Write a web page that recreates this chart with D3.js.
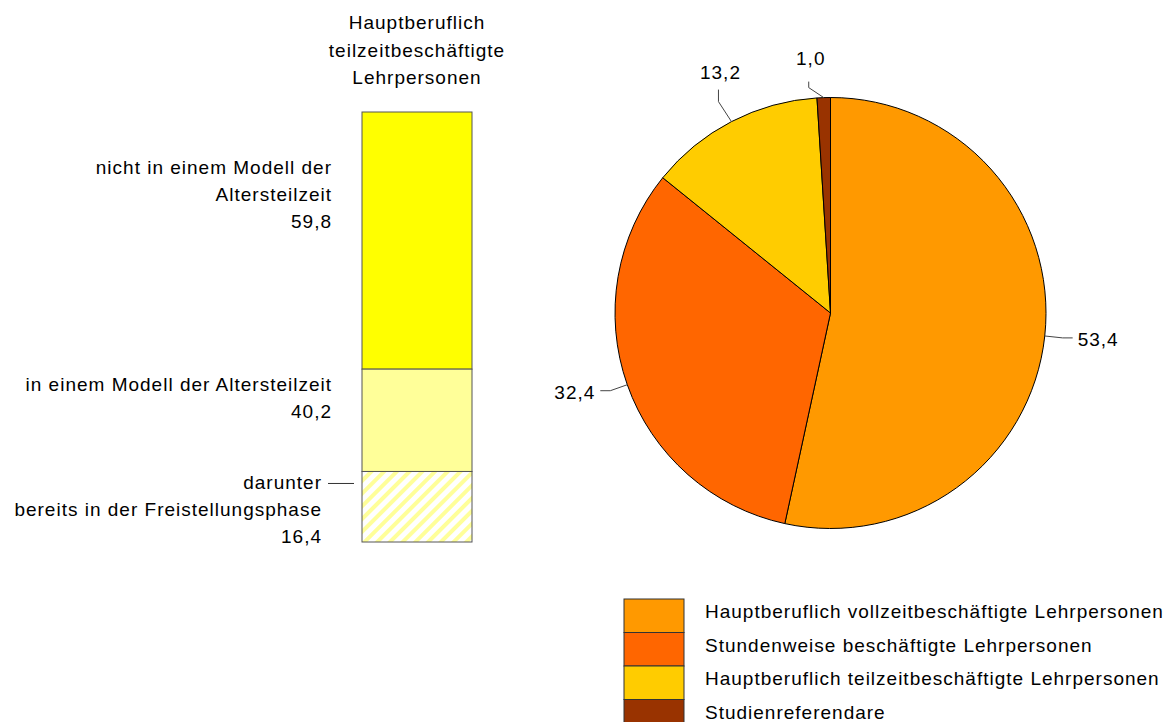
<!DOCTYPE html>
<html>
<head>
<meta charset="utf-8">
<script src="https://cdn.jsdelivr.net/npm/d3@7"></script>
<style>
  body { margin: 0; background: #fff; }
  svg text { font-family: "Liberation Sans", Arial, sans-serif; font-size: 19px; letter-spacing: 1px; fill: #000; }
</style>
</head>
<body>
<svg width="1176" height="722"></svg>
<script>
// Pie: Lehrpersonen nach Beschäftigungsumfang (%)
var pieCategories = ["Hauptberuflich vollzeitbeschäftigte Lehrpersonen",
                     "Stundenweise beschäftigte Lehrpersonen",
                     "Hauptberuflich teilzeitbeschäftigte Lehrpersonen",
                     "Studienreferendare"];
var pieValues = [53.4, 32.4, 13.2, 1.0];
var pieColors = ["#FF9900", "#FF6600", "#FFCC00", "#993300"];

// Bar: hauptberuflich teilzeitbeschäftigte (%)
var barTitle = ["Hauptberuflich", "teilzeitbeschäftigte", "Lehrpersonen"];
var barLabels = [["nicht in einem Modell der", "Altersteilzeit"],
                 ["in einem Modell der Altersteilzeit"],
                 ["darunter", "bereits in der Freistellungsphase"]];
var barValues = [59.8, 40.2, 16.4];

var fmt = function(v){ return d3.format(".1f")(v).replace(".", ","); };

var svg = d3.select("svg");

// hatch pattern
var defs = svg.append("defs");
var pat = defs.append("pattern")
    .attr("id", "hatch")
    .attr("patternUnits", "userSpaceOnUse")
    .attr("width", 9).attr("height", 9)
    .attr("patternTransform", "rotate(45)");
pat.append("rect").attr("width", 9).attr("height", 9).attr("fill", "#fff");
pat.append("rect").attr("width", 4).attr("height", 9).attr("fill", "#FFFF99");

// ---------- bar ----------
var bx = 362, bw = 110;
var y = d3.scaleLinear().domain([0, 100]).range([542, 112]);

var title = svg.append("text").attr("text-anchor", "middle");
barTitle.forEach(function(t, i){
    title.append("tspan").attr("x", bx + bw/2).attr("y", 29 + i*27.5).text(t);
});

var segs = [
    {top: 100, bottom: barValues[1], fill: "#FFFF00"},
    {top: barValues[1], bottom: barValues[2], fill: "#FFFF99"},
    {top: barValues[2], bottom: 0, fill: "url(#hatch)"}
];
svg.append("g").selectAll("rect").data(segs).enter().append("rect")
    .attr("x", bx).attr("width", bw)
    .attr("y", d => y(d.top))
    .attr("height", d => y(d.bottom) - y(d.top))
    .attr("fill", d => d.fill)
    .attr("stroke", "#555").attr("stroke-width", 1);

function labelBlock(lines, xr, y0){
    var t = svg.append("text").attr("text-anchor", "end");
    lines.forEach(function(s, i){
        t.append("tspan").attr("x", xr).attr("y", y0 + i*27).text(s);
    });
}
labelBlock(barLabels[0].concat([fmt(barValues[0])]), 332, y(100) + 62);
labelBlock(barLabels[1].concat([fmt(barValues[1])]), 332, y(barValues[1]) + 22);
labelBlock(barLabels[2].concat([fmt(barValues[2])]), 322, y(barValues[2]) + 18);
svg.append("line")
    .attr("x1", 328).attr("x2", 354)
    .attr("y1", y(barValues[2]) + 12).attr("y2", y(barValues[2]) + 12)
    .attr("stroke", "#333");

// ---------- pie ----------
var cx = 830.5, cy = 313, r = 215.5;
var pie = d3.pie().sort(null).value(d => d)(pieValues);
var arc = d3.arc().innerRadius(0).outerRadius(r);
var pg = svg.append("g").attr("transform", "translate(" + cx + "," + cy + ")");
pg.selectAll("path").data(pie).enter().append("path")
    .attr("d", arc)
    .attr("fill", (d, i) => pieColors[i])
    .attr("stroke", "#000").attr("stroke-width", 1);

// leader layout: side labels go horizontal, top labels vertical
var leaders = [
    {type: "h", ext: 18, len: 10},
    {type: "h", ext: 18, len: 10},
    {type: "v", dx: -13, dy: -20, len: 12, gap: 11},
    {type: "v", dx: -15, dy: -10, len: 6, gap: 17}
];
function pt(a, rr){ return [Math.sin(a)*rr, -Math.cos(a)*rr]; }
pie.forEach(function(d, i){
    var a = (d.startAngle + d.endAngle)/2;
    var L = leaders[i];
    var p1 = pt(a, r), p2, p3, tx, ty, anchor;
    if (L.type == "h") {
        p2 = pt(a, r + L.ext);
        var dir = Math.sin(a) > 0 ? 1 : -1;
        p3 = [p2[0] + dir*L.len, p2[1]];
        tx = p3[0] + dir*5; ty = p3[1] + 8;
        anchor = dir > 0 ? "start" : "end";
    } else {
        p2 = [p1[0] + L.dx, p1[1] + L.dy];
        p3 = [p2[0], p2[1] - L.len];
        tx = p3[0] + 2; ty = p3[1] - L.gap;
        anchor = "middle";
    }
    pg.append("polyline")
        .attr("points", [p1, p2, p3].map(p => p.join(",")).join(" "))
        .attr("fill", "none").attr("stroke", "#444").attr("stroke-width", 1);
    pg.append("text").attr("x", tx).attr("y", ty)
        .attr("text-anchor", anchor).text(fmt(d.data));
});

// ---------- legend ----------
var lg = svg.append("g").attr("transform", "translate(624,599)");
var rows = lg.selectAll("g").data(pieCategories).enter().append("g")
    .attr("transform", (d, i) => "translate(0," + (i*33.5) + ")");
rows.append("rect").attr("width", 60).attr("height", 33.5)
    .attr("fill", (d, i) => pieColors[i])
    .attr("stroke", "#333").attr("stroke-width", 1);
rows.append("text").attr("x", 81).attr("y", 19).text(d => d);
</script>
</body>
</html>
